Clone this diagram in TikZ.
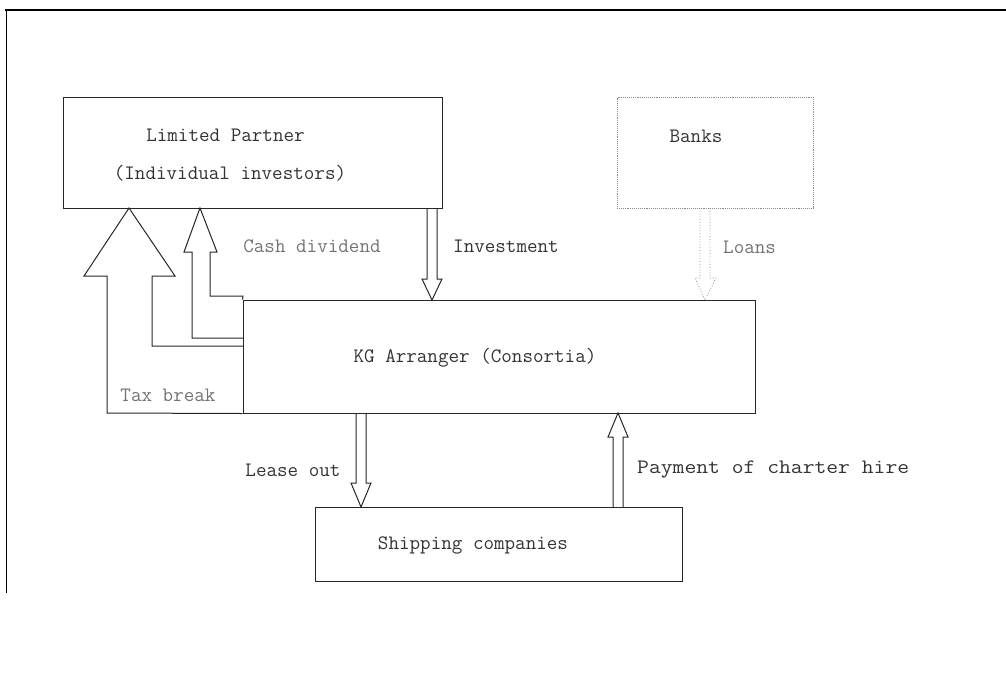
\documentclass[tikz,border=0pt]{standalone}
\begin{document}
\begin{tikzpicture}[x=1pt,y=-1pt,
  box/.style={draw=black!85,line width=1pt,rectangle,inner sep=0pt},
  dbox/.style={draw=black!45,line width=0.9pt,densely dotted,rectangle,inner sep=0pt},
  txt/.style={inner sep=0pt,font=\ttfamily\fontsize{20.5}{22}\selectfont,text=black!80},
  ltxt/.style={txt,text=black!55},
  blk/.style={draw=black!85,line width=1pt,line join=miter},
  dblk/.style={draw=black!45,line width=0.8pt,dotted}]
\useasboundingbox (0,0) rectangle (1006,678);
% frame
\draw[line width=2pt] (5,10) -- (1006,10);
\draw[line width=0.8pt] (6,10) -- (6,593);
% boxes
\node[box,minimum width=379pt,minimum height=111pt] (lp) at (252.5,152.5) {};
\node[dbox,minimum width=196pt,minimum height=111pt] (banks) at (715,152.5) {};
\node[box,minimum width=512pt,minimum height=113pt] (kg) at (499,356.5) {};
\node[box,minimum width=367pt,minimum height=74pt] (ship) at (498.5,544) {};
% texts
\node[txt] (t1) at (225.5,135) {Limited Partner};
\node[txt] (t2) at (230,173) {(Individual investors)};
\node[txt] (t3) at (696,136) {Banks};
\node[ltxt] (t4) at (312,246) {Cash dividend};
\node[txt,anchor=west] (t5) at (453,246) {Investment};
\node[ltxt,anchor=west] (t6) at (723,247) {Loans};
\node[txt] (t7) at (475,358) {KG Arranger (Consortia)};
\node[ltxt] (t8) at (168,395) {Tax break};
\node[txt] (t9) at (293,470) {Lease out};
\node[txt,anchor=west,xscale=1.12,transform shape] (t10) at (637,470) {Payment of charter hire};
\node[txt] (t11) at (473,545) {Shipping companies};
% tax break block arrow
\draw[blk] (kg.south west) -- (107,413) -- (107,276) -- (84,276) -- (129,208) -- (175,276) -- (152,276) -- (152,346) -- (243,346);
% cash dividend block arrow
\draw[blk] (243,338) -- (192,338) -- (192,252) -- (184,252) -- (200,208) -- (217,252) -- (210,252) -- (210,296) -- (243,296) -- (kg.north west);
% investment
\draw[blk] (427,208) -- (427,279) -- (422,279) -- (432,300) -- (442,279) -- (437,279) -- (437,208);
% loans
\draw[dblk] (700,208) -- (700,278) -- (695,278) -- (705,300) -- (716,278) -- (710,278) -- (710,208);
% lease out
\draw[blk] (356,413) -- (356,483) -- (351,483) -- (361,507) -- (371,483) -- (366,483) -- (366,413);
% payment
\draw[blk] (613,507) -- (613,437) -- (608,437) -- (618,413) -- (628,437) -- (623,437) -- (623,507);
\end{tikzpicture}
\end{document}
